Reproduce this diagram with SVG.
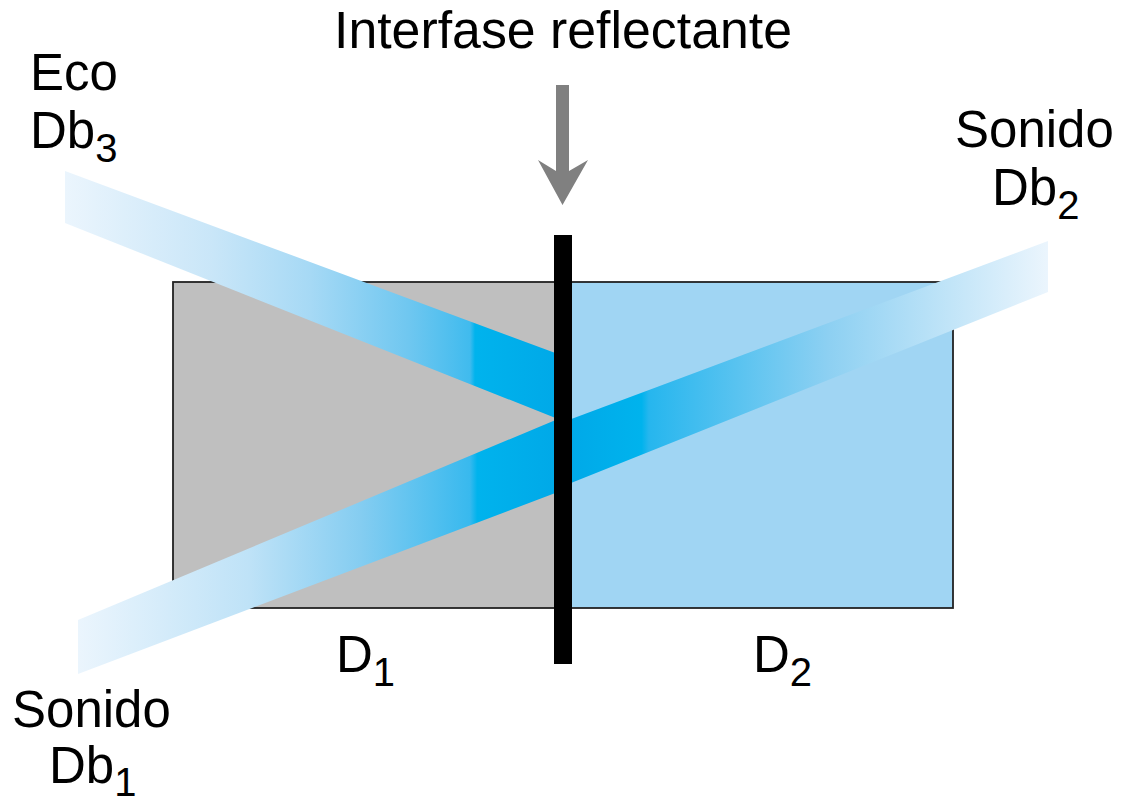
<svg xmlns="http://www.w3.org/2000/svg" width="1125" height="804" viewBox="0 0 1125 804">
<style>
.lbl{font-family:"Liberation Sans",Arial,sans-serif;font-size:51px;fill:#000}
.sub{font-size:40px}
.box{stroke:#222;stroke-width:1.8}
</style>
<defs>
<linearGradient id="gEcho" gradientUnits="userSpaceOnUse" x1="65" y1="0" x2="556" y2="0">
<stop offset="0" stop-color="#EBF5FD"/>
<stop offset="0.3" stop-color="#C9E6F8"/>
<stop offset="0.5" stop-color="#A6D9F5"/>
<stop offset="0.7" stop-color="#6FC7F0"/>
<stop offset="0.825" stop-color="#40BBEE"/>
<stop offset="0.835" stop-color="#00B3ED"/>
<stop offset="1" stop-color="#00A9E8"/>
</linearGradient>
<linearGradient id="gSnd1" gradientUnits="userSpaceOnUse" x1="78" y1="0" x2="556" y2="0">
<stop offset="0" stop-color="#EBF5FD"/>
<stop offset="0.36" stop-color="#BEE2F7"/>
<stop offset="0.59" stop-color="#85CDF1"/>
<stop offset="0.82" stop-color="#38B9EE"/>
<stop offset="0.835" stop-color="#00B3ED"/>
<stop offset="1" stop-color="#00A9E8"/>
</linearGradient>
<linearGradient id="gSnd2" gradientUnits="userSpaceOnUse" x1="570" y1="0" x2="1048" y2="0">
<stop offset="0" stop-color="#00A9E8"/>
<stop offset="0.15" stop-color="#00B3ED"/>
<stop offset="0.165" stop-color="#26B6EE"/>
<stop offset="0.54" stop-color="#8DD0F2"/>
<stop offset="1" stop-color="#EBF5FD"/>
</linearGradient>
</defs>
<g id="medio1">
<rect class="box" x="173" y="282" width="390" height="326" fill="#BFBFBF"/>
</g>
<g id="medio2">
<rect class="box" x="563" y="282" width="390" height="326" fill="#A0D5F3"/>
</g>
<g id="haz-sonido-db1">
<polygon points="78,620 558,419 558,492 78,674" fill="url(#gSnd1)"/>
</g>
<g id="haz-sonido-db2">
<polygon points="566,421 1048,241 1048,292 566,485" fill="url(#gSnd2)"/>
</g>
<g id="haz-eco-db3">
<polygon points="65,171 558,354 558,419 65,223" fill="url(#gEcho)"/>
</g>
<g id="interfase">
<rect x="554" y="235" width="18" height="429" fill="#000"/>
</g>
<g id="connectors">
<polygon points="556,85 569,85 569,171 588,160 562.5,205 538,160 556,171" fill="#808080"/>
</g>
<g id="titulo">
<text class="lbl" x="334" y="48" textLength="458" lengthAdjust="spacingAndGlyphs">Interfase reflectante</text>
</g>
<g id="label-eco">
<text class="lbl" x="30" y="90">Eco</text>
<text class="lbl" x="30" y="148">Db<tspan class="sub" dy="14">3</tspan></text>
</g>
<g id="label-sonido2">
<text class="lbl" x="955" y="147">Sonido</text>
<text class="lbl" x="992" y="205">Db<tspan class="sub" dy="14">2</tspan></text>
</g>
<g id="label-sonido1">
<text class="lbl" x="12" y="727">Sonido</text>
<text class="lbl" x="49" y="783">Db<tspan class="sub" dy="13">1</tspan></text>
</g>
<g id="label-d1">
<text class="lbl" x="336" y="672">D<tspan class="sub" dy="14">1</tspan></text>
</g>
<g id="label-d2">
<text class="lbl" x="753" y="672">D<tspan class="sub" dy="14">2</tspan></text>
</g>
</svg>
